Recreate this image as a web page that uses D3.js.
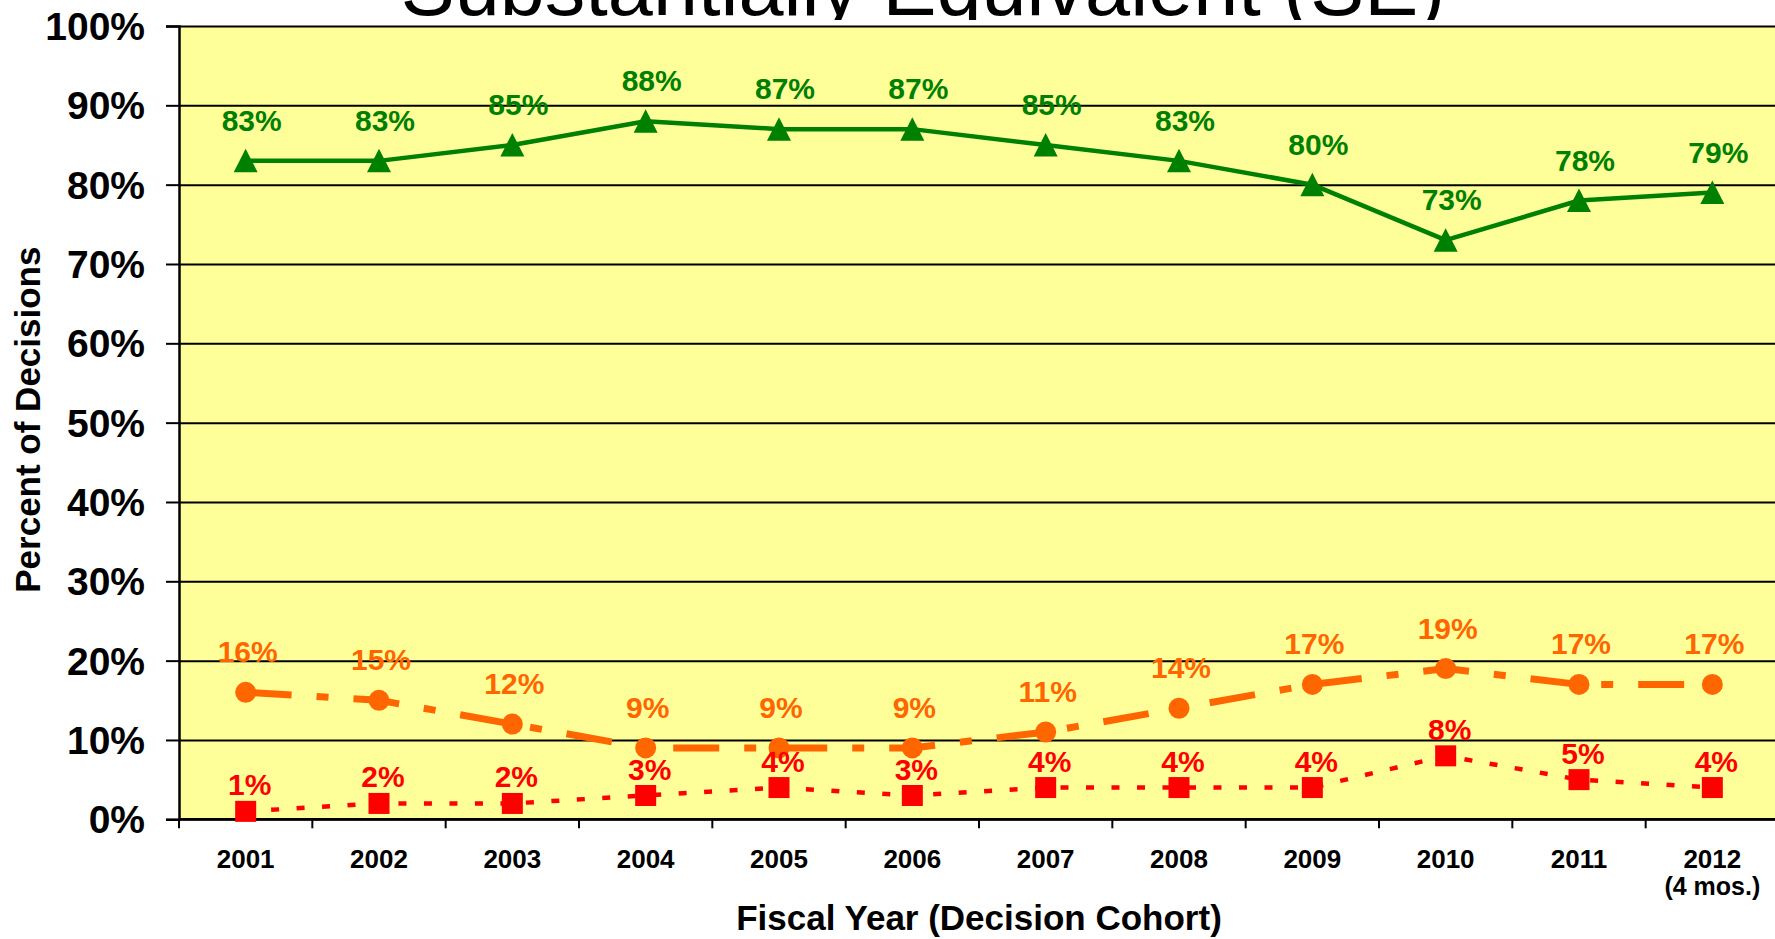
<!DOCTYPE html>
<html>
<head>
<meta charset="utf-8">
<script src="https://cdn.jsdelivr.net/npm/d3@7/dist/d3.min.js"></script>
<style>
  html, body { margin: 0; padding: 0; background: #ffffff; }
  svg { display: block; font-family: "Liberation Sans", Arial, Helvetica, sans-serif; }
</style>
</head>
<body>
<svg id="chart" width="1775" height="939"></svg>
<script>
// Fiscal-year cohorts and the share of decisions per outcome (percent)
const years = ['2001','2002','2003','2004','2005','2006','2007','2008','2009','2010','2011','2012'];
const yearNotes = ['','','','','','','','','','','','(4 mos.)'];
const seShare = [83, 83, 85, 88, 87, 87, 85, 83, 80, 73, 78, 79];
const midShare = [16, 15, 12, 9, 9, 9, 11, 14, 17, 19, 17, 17];
const lowShare = [1, 2, 2, 3, 4, 3, 4, 4, 4, 8, 5, 4];
const yTicks = [0, 10, 20, 30, 40, 50, 60, 70, 80, 90, 100];

const titleText = 'Substantially Equivalent (SE)';
const xTitle = 'Fiscal Year (Decision Cohort)';
const yTitle = 'Percent of Decisions';

const svg = d3.select('#chart');
const W = 1775, H = 939;
const plot = { left: 179, right: 1779, top: 26, bottom: 819.3 };

const x = d3.scaleBand().domain(years).range([plot.left, plot.right]).paddingInner(0).paddingOuter(0);
const y = d3.scaleLinear().domain([0, 100]).range([plot.bottom, plot.top]);
const cx = yr => x(yr) + x.bandwidth() / 2;

// Title (its upper part falls outside the page; the text box clips below the baseline)
svg.append('defs').append('clipPath').attr('id', 'titleClip')
  .append('rect').attr('x', 0).attr('y', 0).attr('width', W).attr('height', 20);
svg.append('text')
  .attr('clip-path', 'url(#titleClip)')
  .attr('x', 923).attr('y', 15)
  .attr('text-anchor', 'middle')
  .attr('font-size', 81)
  .attr('fill', '#000')
  .text(titleText);

// Plot background
svg.append('rect')
  .attr('x', plot.left).attr('y', plot.top)
  .attr('width', plot.right - plot.left).attr('height', plot.bottom - plot.top)
  .attr('fill', '#FFFF99');

// Horizontal gridlines
svg.append('g')
  .attr('transform', `translate(${plot.left},0)`)
  .call(d3.axisLeft(y).tickValues(yTicks).tickSize(-(plot.right - plot.left)).tickFormat(''))
  .call(g => g.select('.domain').remove())
  .call(g => g.selectAll('line').attr('stroke', '#000').attr('stroke-width', 2));

// Y axis with labels
svg.append('g')
  .attr('transform', `translate(${plot.left},0)`)
  .call(d3.axisLeft(y).tickValues(yTicks).tickSize(13).tickPadding(21).tickFormat(d => d + '%'))
  .call(g => g.select('.domain').attr('stroke', '#000').attr('stroke-width', 2.5))
  .call(g => g.selectAll('line').attr('stroke', '#000').attr('stroke-width', 2))
  .call(g => g.selectAll('text')
    .attr('font-size', 39).attr('font-weight', 'bold').attr('fill', '#000')
    .attr('font-family', '"Liberation Sans", Arial, sans-serif').attr('dy', '0.35em'));

// X axis: baseline, category boundary ticks, year labels
svg.append('line')
  .attr('x1', plot.left).attr('x2', plot.right)
  .attr('y1', y(0)).attr('y2', y(0))
  .attr('stroke', '#000').attr('stroke-width', 2.5);

const boundaries = years.map(yr => x(yr)).concat([plot.right]);
svg.append('g').selectAll('line').data(boundaries).join('line')
  .attr('x1', d => d).attr('x2', d => d)
  .attr('y1', y(0)).attr('y2', y(0) + 9)
  .attr('stroke', '#000').attr('stroke-width', 2);

svg.append('g').selectAll('text').data(years).join('text')
  .attr('x', d => cx(d)).attr('y', 868)
  .attr('text-anchor', 'middle')
  .attr('font-size', 26).attr('font-weight', 'bold').attr('fill', '#000')
  .text(d => d);

svg.append('g').selectAll('text').data(years.filter((d, i) => yearNotes[i])).join('text')
  .attr('x', d => cx(d)).attr('y', 895)
  .attr('text-anchor', 'middle')
  .attr('font-size', 25).attr('font-weight', 'bold').attr('fill', '#000')
  .text(d => yearNotes[years.indexOf(d)]);

// Axis titles
svg.append('text')
  .attr('x', (plot.left + plot.right) / 2).attr('y', 930)
  .attr('text-anchor', 'middle')
  .attr('font-size', 35).attr('font-weight', 'bold').attr('fill', '#000')
  .text(xTitle);

svg.append('text')
  .attr('transform', `translate(40,${(plot.top + plot.bottom) / 2 - 3}) rotate(-90)`)
  .attr('text-anchor', 'middle')
  .attr('font-size', 35).attr('font-weight', 'bold').attr('fill', '#000')
  .text(yTitle);

// Series
const series = [
  { values: seShare, color: '#008000', width: 4.5, dash: null, marker: 'triangle', labelDy: 30, labelDx: 6 },
  { values: midShare, color: '#FF6600', width: 7, dash: '46 25 12 25', marker: 'circle', labelDy: 30, labelDx: 2 },
  { values: lowShare, color: '#FF0000', width: 4.5, dash: '8 17.5', marker: 'square', labelDy: 16, labelDx: 4 }
];

const line = d3.line().x(d => cx(d.year)).y(d => y(d.value));

series.forEach(s => {
  const pts = years.map((yr, i) => ({ year: yr, value: s.values[i] }));
  const g = svg.append('g');

  g.append('path')
    .datum(pts)
    .attr('d', line)
    .attr('fill', 'none')
    .attr('stroke', s.color)
    .attr('stroke-width', s.width)
    .attr('stroke-dasharray', s.dash)
    .attr('stroke-linejoin', 'round');

  g.selectAll('.mark').data(pts).join(
    enter => {
      if (s.marker === 'triangle') {
        return enter.append('path')
          .attr('d', d => {
            const px = cx(d.year), py = y(d.value);
            return `M${px},${py - 12}L${px + 12},${py + 11.5}L${px - 12},${py + 11.5}Z`;
          });
      } else if (s.marker === 'circle') {
        return enter.append('circle')
          .attr('cx', d => cx(d.year)).attr('cy', d => y(d.value)).attr('r', 10.5);
      }
      return enter.append('rect')
        .attr('x', d => cx(d.year) - 10.5).attr('y', d => y(d.value) - 10.5)
        .attr('width', 21).attr('height', 21);
    })
    .attr('class', 'mark')
    .attr('fill', s.color);

  g.selectAll('.lbl').data(pts).join('text')
    .attr('class', 'lbl')
    .attr('x', d => cx(d.year) + s.labelDx)
    .attr('y', d => y(d.value) - s.labelDy)
    .attr('text-anchor', 'middle')
    .attr('font-size', 30).attr('font-weight', 'bold')
    .attr('fill', s.color)
    .text(d => d.value + '%');
});
</script>
</body>
</html>
